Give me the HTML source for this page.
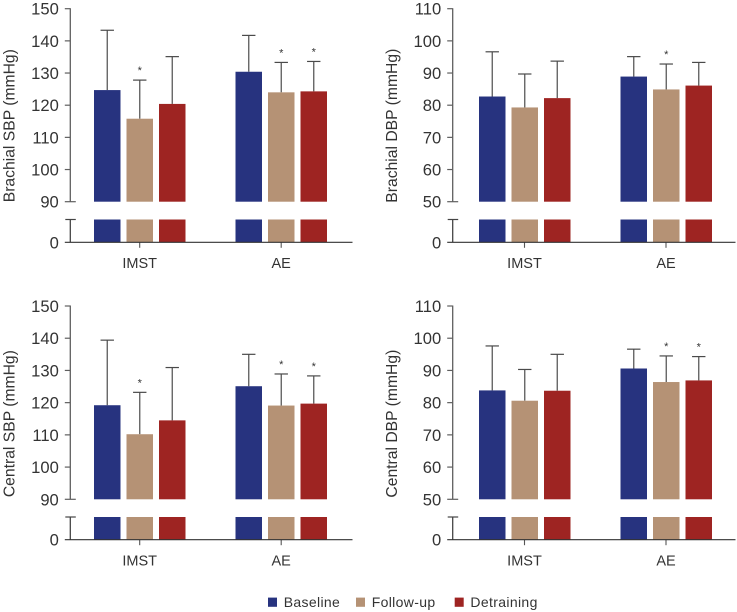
<!DOCTYPE html>
<html lang="en">
<head>
<meta charset="utf-8">
<title>Blood pressure bar charts</title>
<style>
html,body{margin:0;padding:0;background:#fff;}
svg{display:block;font-family:"Liberation Sans",Arial,sans-serif;}
</style>
</head>
<body>
<svg id="chart" width="737" height="612" viewBox="0 0 737 612" xmlns="http://www.w3.org/2000/svg"></svg>
<script>
const categories = ['IMST', 'AE'];
const seriesNames = ['Baseline', 'Follow-up', 'Detraining'];
const seriesColors = ['#27337f', '#b59275', '#9e2422'];

const brachialSbpMeans = [[124.7, 115.8, 120.4], [130.4, 124.0, 124.3]];
const brachialSbpErrors = [[143.3, 127.8, 135.1], [141.7, 133.3, 133.6]];
const brachialSbpStars = [[false, true, false], [false, true, true]];
const brachialSbpTicks = [90, 100, 110, 120, 130, 140, 150];

const brachialDbpMeans = [[82.7, 79.3, 82.2], [88.9, 84.9, 86.1]];
const brachialDbpErrors = [[96.6, 89.7, 93.7], [95.1, 92.8, 93.3]];
const brachialDbpStars = [[false, false, false], [false, true, false]];
const brachialDbpTicks = [50, 60, 70, 80, 90, 100, 110];

const centralSbpMeans = [[119.2, 110.2, 114.5], [125.1, 119.1, 119.7]];
const centralSbpErrors = [[139.4, 123.2, 130.9], [135.0, 128.9, 128.3]];
const centralSbpStars = [[false, true, false], [false, true, true]];
const centralSbpTicks = [90, 100, 110, 120, 130, 140, 150];

const centralDbpMeans = [[83.8, 80.6, 83.7], [90.6, 86.4, 86.9]];
const centralDbpErrors = [[97.6, 90.3, 95.0], [96.6, 94.5, 94.3]];
const centralDbpStars = [[false, false, false], [false, true, true]];
const centralDbpTicks = [50, 60, 70, 80, 90, 100, 110];

const NS = 'http://www.w3.org/2000/svg';
const root = document.getElementById('chart');

function make(parent, tag, attrs, text) {
  const el = document.createElementNS(NS, tag);
  for (const k in attrs) el.setAttribute(k, attrs[k]);
  if (text !== undefined) el.textContent = text;
  parent.appendChild(el);
  return el;
}

function drawPanel(p) {
  const g = make(root, 'g', {});
  
  

  const ticks = p.ticks;
  const low = ticks[0];
  const high = ticks[ticks.length - 1];
  const yScale = function (v) {
    return p.yBase + (p.yTop - p.yBase) * (v - low) / (high - low);
  };
  const barW = 26.5;
  const step = 32.5;

  // bars and error bars
  categories.forEach(function (cat, c) {
    const first = p.groupX[c];
    seriesNames.forEach(function (sName, s) {
      const x = first + s * step;
      const mid = x + barW / 2;
      const yVal = yScale(p.means[c][s]);
      const yErr = yScale(p.errors[c][s]);

      const stem = make(g, 'line', {x1: mid, x2: mid, y1: yErr, y2: yVal, stroke: '#5a5a5a', 'stroke-width': 1.3});
      
      
      const cap = make(g, 'line', {x1: mid - 6.7, x2: mid + 6.7, y1: yErr, y2: yErr, stroke: '#4a4a4a', 'stroke-width': 1.2});
      
      

      const bar = make(g, 'rect', {x: x, y: yVal, width: barW, height: p.yBase - yVal, fill: seriesColors[s]});
      
      
      const stub = make(g, 'rect', {x: x, y: p.yBreak, width: barW, height: p.yZero - p.yBreak, fill: seriesColors[s]});
      
      

      if (p.stars[c][s]) {
        const star = make(g, 'text', {x: mid, y: yErr - 6, 'text-anchor': 'middle', 'font-size': 11, fill: '#333'}, '*');
        
        
      }
    });

    const tickX = p.catX[c];
    const catTick = make(g, 'line', {x1: tickX, x2: tickX, y1: p.yZero, y2: p.yZero + 5.5, stroke: '#555', 'stroke-width': 1.1});
    
    
    const catLabel = make(g, 'text', {x: tickX, y: p.yZero + 25.7, 'text-anchor': 'middle', 'font-size': 14.5, fill: '#333'}, cat);
    
    
  });

  // y axis
  const upper = make(g, 'line', {x1: p.axisX, x2: p.axisX, y1: p.yTop - 0.5, y2: p.yBase, stroke: '#5f5f5f', 'stroke-width': 1.3});
  
  
  const lower = make(g, 'line', {x1: p.axisX, x2: p.axisX, y1: p.yBreak, y2: p.yZero, stroke: '#444', 'stroke-width': 1.3});
  
  

  ticks.forEach(function (t, i) {
    const y = yScale(t);
    const tick = make(g, 'line', {x1: p.axisX - 5.5, x2: i === 0 ? p.axisX + 5.5 : p.axisX, y1: y, y2: y, stroke: '#5f5f5f', 'stroke-width': 1.2});
    
    
    const label = make(g, 'text', {x: p.axisX - 11.5, y: y + 6, 'text-anchor': 'end', 'font-size': 16.6, fill: '#333'}, t);
    
    
  });

  const breakTick = make(g, 'line', {x1: p.axisX - 5, x2: p.axisX + 5.5, y1: p.yBreak, y2: p.yBreak, stroke: '#444', 'stroke-width': 1.2});
  
  

  const zeroLine = make(g, 'line', {x1: p.axisX - 5.5, x2: p.axisEnd, y1: p.yZero, y2: p.yZero, stroke: '#333', 'stroke-width': 1.2});
  
  
  const zeroLabel = make(g, 'text', {x: p.axisX - 11.5, y: p.yZero + 6, 'text-anchor': 'end', 'font-size': 16.6, fill: '#333'}, 0);
  
  

  const cy = (p.yTop + p.yBase) / 2 + p.titleShift;
  const title = make(g, 'text', {x: 0, y: 0, transform: 'translate(' + p.titleX + ' ' + cy + ') rotate(-90)', 'text-anchor': 'middle', 'font-size': 15.7, fill: '#333'}, p.title);
  
  
}

drawPanel({name: 'brachial-sbp', title: 'Brachial SBP (mmHg)', means: brachialSbpMeans, errors: brachialSbpErrors, stars: brachialSbpStars, ticks: brachialSbpTicks,
  axisX: 70.3, axisEnd: 352.5, groupX: [94, 235.5], catX: [139.7, 281.2], yTop: 8.7, yBase: 201.7, yBreak: 219.5, yZero: 242.3, titleX: 14.5, titleShift: 20.5});
drawPanel({name: 'brachial-dbp', title: 'Brachial DBP (mmHg)', means: brachialDbpMeans, errors: brachialDbpErrors, stars: brachialDbpStars, ticks: brachialDbpTicks,
  axisX: 452.7, axisEnd: 735.5, groupX: [479, 620.5], catX: [524.5, 666], yTop: 8.7, yBase: 201.7, yBreak: 219.5, yZero: 242.3, titleX: 397, titleShift: 20.5});
drawPanel({name: 'central-sbp', title: 'Central SBP (mmHg)', means: centralSbpMeans, errors: centralSbpErrors, stars: centralSbpStars, ticks: centralSbpTicks,
  axisX: 70.3, axisEnd: 352.5, groupX: [94, 235.5], catX: [139.7, 281.2], yTop: 306, yBase: 499.3, yBreak: 517, yZero: 539.7, titleX: 14.5, titleShift: 21});
drawPanel({name: 'central-dbp', title: 'Central DBP (mmHg)', means: centralDbpMeans, errors: centralDbpErrors, stars: centralDbpStars, ticks: centralDbpTicks,
  axisX: 452.7, axisEnd: 735.5, groupX: [479, 620.5], catX: [524.5, 666], yTop: 306, yBase: 499.3, yBreak: 517, yZero: 539.7, titleX: 397, titleShift: 21});

const legendX = [268, 356, 454.7];
const legend = make(root, 'g', {});


seriesNames.forEach(function (sName, s) {
  const swatch = make(legend, 'rect', {x: legendX[s], y: 597.6, width: 9, height: 9.2, fill: seriesColors[s]});
  
  
  const text = make(legend, 'text', {x: legendX[s] + 15.7, y: 607, 'font-size': 14, 'letter-spacing': 0.35, fill: '#333'}, sName);
  
  
});
</script>
</body>
</html>
